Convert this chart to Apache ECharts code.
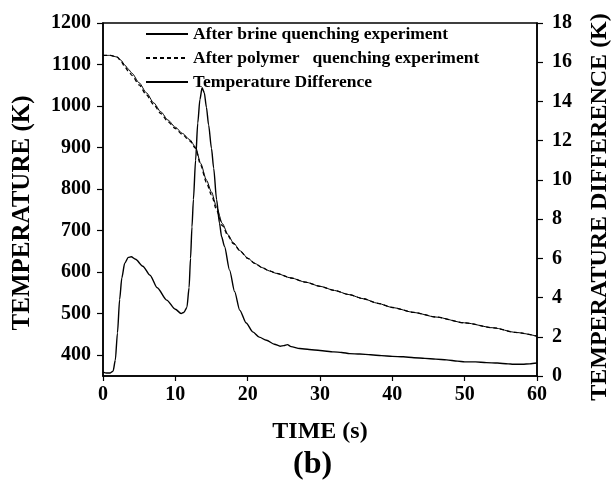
<!DOCTYPE html>
<html>
<head>
<meta charset="utf-8">
<script src="https://cdn.jsdelivr.net/npm/echarts@6/dist/echarts.min.js"></script>
<style>html,body{margin:0;padding:0;background:#fff}#c{width:611px;height:489px}</style>
</head>
<body>
<div id="c"></div>
<script>
// ---- data ----
const seriesNames = ['After brine quenching experiment', 'After polymer   quenching experiment', 'Temperature Difference'];
const tempTime = [0, 1, 2, 2.5, 3, 3.5, 4, 5, 6, 7, 8, 9, 10, 11, 12, 12.8, 13.5, 14.3, 15, 15.7, 16.5, 17.3, 18, 19, 20, 21, 22, 23, 24, 26, 28, 30, 32, 34, 36, 38, 40, 43, 46, 50, 54, 57, 60];
const brineTemp = [1122, 1122, 1118, 1110, 1099, 1089, 1079, 1056, 1032, 1008, 986, 966, 949, 934, 919, 901, 862, 822, 793, 757, 717, 690, 671, 651, 634, 621, 611, 603, 597, 586, 576, 566, 556, 546, 536, 525, 515, 503, 492, 478, 466, 455, 446];
const polymerTemp = [1122, 1122, 1117, 1108, 1095, 1084, 1074, 1051, 1027, 1004, 982, 962, 946, 931, 916, 898, 858, 816, 786, 750, 712, 687, 669, 650, 633, 621, 611, 603, 597, 586, 576, 566, 556, 546, 536, 525, 515, 503, 492, 478, 466, 455, 446];
const diffTime = [0, 0.5, 1.0, 1.4, 1.7, 2.0, 2.3, 2.6, 3.0, 3.5, 3.9, 4.5, 5.5, 6.5, 7.5, 8.8, 10, 10.8, 11.2, 11.6, 11.9, 12.1, 12.3, 12.5, 12.8, 13.1, 13.4, 13.7, 14.0, 14.3, 14.6, 15.0, 15.3, 15.7, 16.1, 16.4, 16.8, 17.5, 18.2, 18.9, 19.8, 20.7, 21.6, 22.6, 23.7, 24.5, 25.0, 25.5, 26.0, 27.2, 28.5, 30, 31.9, 33, 34.1, 35.5, 37, 38.5, 40, 41.5, 43, 44.5, 46, 47.5, 49, 50, 51.5, 53, 54.5, 56, 56.7, 58, 59, 60];
const diffK = [0.2, 0.15, 0.15, 0.25, 0.8, 2.2, 3.9, 5.0, 5.75, 6.05, 6.08, 5.95, 5.6, 5.14, 4.5, 3.87, 3.4, 3.19, 3.25, 3.5, 4.5, 6.0, 7.6, 9.0, 11.0, 12.9, 14.1, 14.7, 14.45, 13.7, 12.8, 11.6, 10.6, 9.0, 7.8, 7.1, 6.6, 5.4, 4.3, 3.36, 2.7, 2.25, 1.98, 1.82, 1.62, 1.52, 1.55, 1.6, 1.5, 1.4, 1.35, 1.3, 1.23, 1.2, 1.14, 1.12, 1.08, 1.04, 1.0, 0.98, 0.93, 0.9, 0.86, 0.82, 0.76, 0.72, 0.72, 0.68, 0.66, 0.62, 0.6, 0.6, 0.62, 0.66];
const leftTicks = [400, 500, 600, 700, 800, 900, 1000, 1100, 1200];
const rightTicks = [0, 2, 4, 6, 8, 10, 12, 14, 16, 18];
const timeTicks = [0, 10, 20, 30, 40, 50, 60];

const pairs = (xs, ys) => xs.map((x, i) => [x, ys[i]]);
const FONT = '"Liberation Serif", "Times New Roman", serif';
const lbl = {color: '#000', fontFamily: FONT, fontWeight: 'bold', fontSize: 20, formatter: v => String(v)};

const chart = echarts.init(document.getElementById('c'), null, {renderer: 'canvas'});
chart.setOption({
  animation: false,
  backgroundColor: '#fff',
  title: {
    text: '(b)', left: 293, top: 449, padding: 0,
    textStyle: {color: '#000', fontFamily: FONT, fontWeight: 'bold', fontSize: 32}
  },
  graphic: [
    {type: 'text', x: 23, y: 213, rotation: Math.PI / 2,
     style: {text: 'TEMPERATURE (K)', font: 'bold 25px "Liberation Serif", serif', fill: '#000', align: 'center', verticalAlign: 'middle'}},
    {type: 'text', x: 600, y: 207, rotation: Math.PI / 2,
     style: {text: 'TEMPERATURE DIFFERENCE (K)', font: 'bold 24px "Liberation Serif", serif', fill: '#000', align: 'center', verticalAlign: 'middle'}}
  ],
  grid: {left: 103, right: 74, top: 23, bottom: 113, show: true, borderColor: '#000', borderWidth: 1.5, backgroundColor: 'transparent'},
  legend: {
    data: seriesNames,
    orient: 'vertical', left: 145, top: 25,
    itemWidth: 42, itemHeight: 14, itemGap: 6,
    padding: 0,
    itemStyle: {opacity: 0},
    textStyle: {color: '#000', fontFamily: FONT, fontWeight: 'bold', fontSize: 17.5}
  },
  xAxis: {
    type: 'value', min: 0, max: 60, interval: 10,
    name: 'TIME (s)', nameLocation: 'middle', nameGap: 44,
    nameTextStyle: {color: '#000', fontFamily: FONT, fontWeight: 'bold', fontSize: 24},
    axisLine: {lineStyle: {color: '#000', width: 1.5}},
    axisTick: {length: 5, lineStyle: {color: '#000', width: 1.2}, customValues: timeTicks},
    axisLabel: Object.assign({margin: 9, customValues: timeTicks}, lbl),
    splitLine: {show: false}
  },
  yAxis: [{
    type: 'value', min: 350, max: 1200, interval: 50, position: 'left',
    axisLine: {show: true, lineStyle: {color: '#000', width: 1.5}},
    axisTick: {show: true, length: 6, lineStyle: {color: '#000', width: 1.2}, customValues: leftTicks},
    axisLabel: Object.assign({margin: 12, customValues: leftTicks}, lbl),
    splitLine: {show: false}
  }, {
    type: 'value', min: 0, max: 18, interval: 2, position: 'right',
    axisLine: {show: true, lineStyle: {color: '#000', width: 1.5}},
    axisTick: {show: true, length: 6, lineStyle: {color: '#000', width: 1.2}, customValues: rightTicks},
    axisLabel: Object.assign({margin: 15, customValues: rightTicks}, lbl),
    splitLine: {show: false}
  }],
  series: [{
    name: seriesNames[0], type: 'line', yAxisIndex: 0, symbol: 'none', smooth: 0.25, smoothMonotone: 'x',
    data: pairs(tempTime, brineTemp),
    lineStyle: {color: '#000', width: 1}, itemStyle: {color: '#000'}
  }, {
    name: seriesNames[1], type: 'line', yAxisIndex: 0, symbol: 'none', smooth: 0.25, smoothMonotone: 'x',
    data: pairs(tempTime, polymerTemp),
    lineStyle: {color: '#000', width: 1.3, type: [4, 3]}, itemStyle: {color: '#000'}
  }, {
    name: seriesNames[2], type: 'line', yAxisIndex: 1, symbol: 'none', smooth: 0.25, smoothMonotone: 'x',
    data: pairs(diffTime, diffK),
    lineStyle: {color: '#000', width: 1.4}, itemStyle: {color: '#000'}
  }]
});
</script>
</body>
</html>
